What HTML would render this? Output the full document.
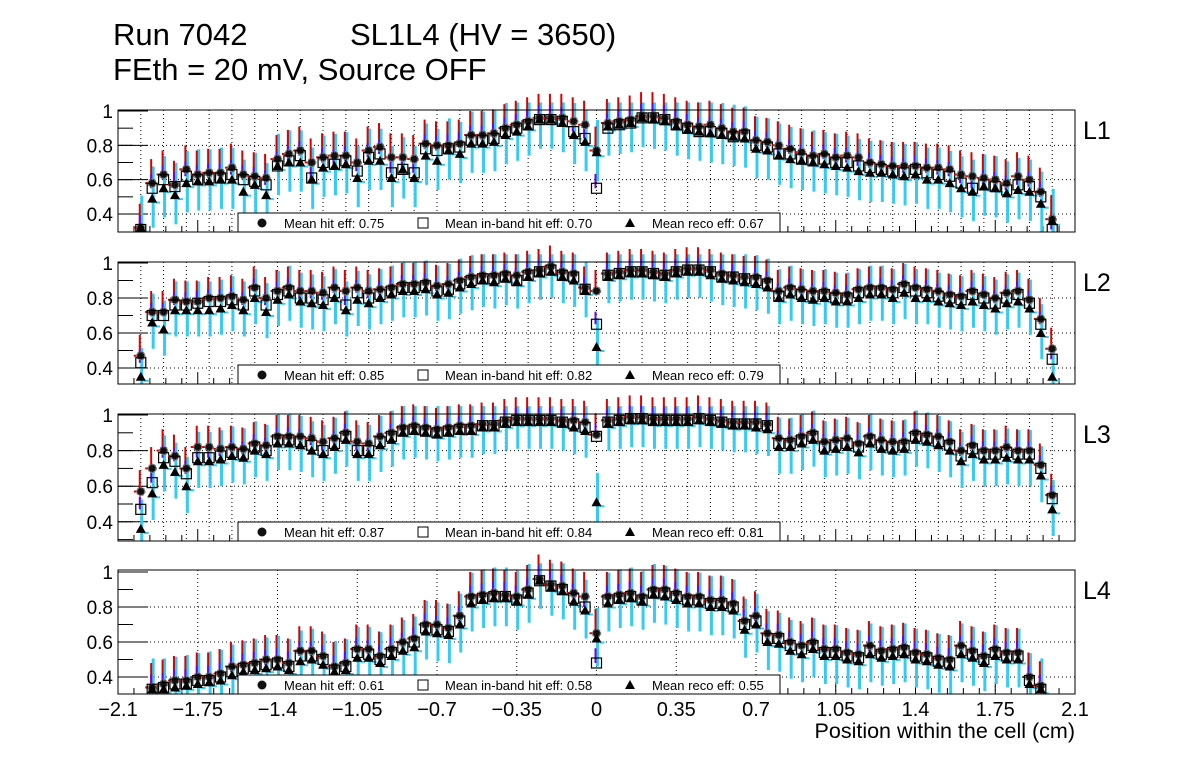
<!DOCTYPE html>
<html><head><meta charset="utf-8"><style>
body{margin:0;background:#fff;}
svg{display:block;font-family:"Liberation Sans",sans-serif;}
</style></head><body>
<svg id="c" width="1196" height="772" viewBox="0 0 1196 772">
<text x="113" y="45" font-size="31">Run 7042</text>
<text x="350" y="45" font-size="31">SL1L4 (HV = 3650)</text>
<text x="113" y="80" font-size="31">FEth = 20 mV, Source OFF</text>
<text x="1075" y="738" font-size="21.5" text-anchor="end">Position within the cell (cm)</text>
</svg>
<script>
const xTicks=[-2.1,-1.75,-1.4,-1.05,-0.7,-0.35,0,0.35,0.7,1.05,1.4,1.75,2.1];
const xTickLabels=["\u22122.1","\u22121.75","\u22121.4","\u22121.05","\u22120.7","\u22120.35","0","0.35","0.7","1.05","1.4","1.75","2.1"];
const yTicks=[0.4,0.6,0.8,1];
const yTickLabels=["0.4","0.6","0.8","1"];
const layerNames=["L1","L2","L3","L4"];
const meanHit=["0.75","0.85","0.87","0.61"];
const meanInband=["0.70","0.82","0.84","0.58"];
const meanReco=["0.67","0.79","0.81","0.55"];
const hit1=[32,58,63,57,66,63,64,64,67,63,62,61,72,75,77,70,73,74,74,70,77,79,73,73,72,81,80,80,81,86,86,87,90,92,94,96,96,96,94,92,77,93,94,95,97,97,96,94,92,91,92,90,88,88,83,82,80,78,76,74,75,73,74,73,70,69,68,68,68,67,67,66,63,62,61,60,58,62,60,53,37];
const inb1=[31,55,60,56,62,60,61,61,63,60,59,57,68,71,74,61,70,69,71,65,73,75,64,66,64,78,77,78,79,83,83,84,88,90,92,95,95,94,88,84,55,90,92,93,96,96,95,92,90,88,88,87,85,86,80,79,75,75,72,71,72,70,70,68,67,66,65,64,66,64,63,62,58,55,57,56,54,57,56,50,31];
const reco1=[32,49,55,51,58,59,59,60,60,53,57,51,68,70,70,60,67,68,69,61,71,71,61,66,61,74,71,77,75,81,81,82,86,88,91,95,95,93,86,82,76,91,92,93,96,95,94,91,89,88,87,86,85,84,78,77,74,72,71,70,69,68,67,65,64,64,63,62,63,60,60,58,55,53,56,55,52,54,53,46,36];
const hit2=[47,72,72,79,78,78,80,80,81,79,86,80,84,86,84,84,83,86,84,86,84,85,86,88,88,89,87,88,90,92,93,93,94,93,95,96,98,95,94,86,84,94,95,96,96,95,94,96,97,97,96,94,93,92,92,90,84,86,85,84,84,83,82,85,86,86,85,88,86,85,84,82,81,84,82,80,83,84,79,68,51];
const inb2=[43,70,70,76,76,77,78,78,79,76,84,76,82,84,80,80,79,83,76,83,80,82,84,86,86,87,84,85,88,90,91,91,92,90,93,95,96,93,92,85,65,93,94,95,95,94,93,95,96,96,95,92,92,91,90,88,81,84,82,81,82,80,80,83,84,84,83,86,84,83,81,80,79,82,80,77,80,82,77,65,45];
const reco2=[35,66,62,73,73,73,73,74,76,73,80,72,79,82,78,77,76,80,73,79,77,80,82,84,84,85,82,83,86,88,90,89,91,89,92,94,95,92,90,84,52,92,93,94,94,93,92,94,95,95,93,91,90,89,88,86,80,82,80,79,80,78,78,80,82,82,80,83,80,80,78,77,76,78,76,74,77,78,74,60,35];
const hit3=[57,70,80,77,70,82,82,81,82,81,84,83,88,88,88,87,85,87,90,85,84,88,90,93,94,93,92,93,94,94,95,95,97,98,98,98,98,97,97,96,89,97,98,99,99,98,98,98,98,99,98,97,96,96,96,95,87,86,88,90,85,86,87,84,88,86,85,85,90,89,88,85,80,83,80,80,82,80,80,72,55];
const inb3=[47,62,76,74,67,76,76,77,79,78,82,80,86,86,85,83,80,84,88,80,80,85,88,91,92,91,90,91,92,92,94,94,96,97,97,97,97,96,95,93,88,96,97,98,98,97,97,97,97,98,97,96,95,95,95,94,84,84,86,88,82,83,84,82,86,83,82,83,88,87,85,83,77,81,78,78,79,78,78,70,53];
const reco3=[36,56,72,68,60,74,74,75,77,76,80,78,84,84,83,80,78,82,86,78,78,83,86,90,91,90,89,90,91,91,93,93,95,96,96,96,96,95,93,91,51,95,96,97,97,96,96,96,96,97,96,95,94,94,93,92,82,82,84,86,80,81,82,79,84,81,80,81,86,85,83,80,74,78,75,75,76,75,75,66,47];
const hit4=[10,34,36,38,38,40,40,42,46,47,48,50,50,48,55,55,52,46,48,56,56,52,56,60,62,70,70,68,75,86,87,88,87,86,90,96,93,92,88,86,65,86,87,88,86,90,90,88,86,86,84,84,82,72,75,65,64,60,58,60,56,56,54,53,58,55,56,57,54,53,51,50,58,55,52,56,54,54,40,35,10];
const inb4=[10,33,34,36,36,38,38,40,43,45,46,47,48,46,52,52,50,44,46,54,53,50,54,57,60,68,67,66,72,84,85,86,86,84,88,95,92,90,85,80,48,84,85,86,84,88,88,86,84,84,82,82,80,70,72,62,62,58,56,58,54,54,52,51,55,53,54,55,52,51,49,48,55,53,50,54,52,52,38,33,10];
const reco4=[10,33,33,34,35,36,37,38,41,43,44,45,46,44,49,50,47,43,44,51,51,48,52,55,57,66,65,64,70,82,84,85,85,83,87,95,91,89,83,78,62,82,84,85,83,87,86,84,82,82,80,80,78,67,70,60,59,55,53,56,52,52,50,49,53,51,52,53,50,49,47,46,53,51,48,52,50,50,36,33,10];
const hitErr=[14,12,12,14];
const recoErr=[17,15,15,16];
const HIT=[hit1,hit2,hit3,hit4],INB=[inb1,inb2,inb3,inb4],RECO=[reco1,reco2,reco3,reco4];

const NS="http://www.w3.org/2000/svg";
const svg=document.getElementById('c');
const X0=118,X1=1075;
const panels=[{top:110,bot:232,y1:111,k:171.7},{top:262,bot:384,y1:263,k:175},{top:414,bot:541,y1:415,k:178},{top:570,bot:694,y1:572,k:175}];
function sx(v){return X0+(v+2.1)/4.2*(X1-X0);}
function mk(tag,attrs,parent){const e=document.createElementNS(NS,tag);for(const k in attrs)e.setAttribute(k,attrs[k]);(parent||svg).appendChild(e);return e;}

panels.forEach((p,pi)=>{
  const sy=v=>p.y1+(1-v)*p.k;
  const g=mk('g',{});
  
  
  const gx=[];
  if(pi<3){for(let k=0;k<=40;k++)gx.push(-2.0+0.1*k);} else {xTicks.forEach(t=>gx.push(t));}
  gx.forEach(v=>{const x=sx(v);if(x>X0+2&&x<X1-2){const l=mk('line',{x1:x,x2:x,y1:p.top,y2:p.bot,stroke:'#000','stroke-width':1,'stroke-dasharray':'1 3'},g);}});
  yTicks.forEach((t,i)=>{const y=sy(t);
    if(t<1){const l=mk('line',{x1:X0,x2:X1,y1:y,y2:y,stroke:'#000','stroke-width':1,'stroke-dasharray':'1 3'},g);}
    const tk=mk('line',{x1:X0,x2:X0+30,y1:y,y2:y,stroke:'#000','stroke-width':1},g);
    const tx=mk('text',{x:113,y:y+7,'font-size':19,'text-anchor':'end'},g);tx.textContent=yTickLabels[i];
  });
  for(let v=0.3;v<1.0;v+=0.1){const y=sy(v);if(y<p.bot-1){const l=mk('line',{x1:X0,x2:X0+15,y1:y,y2:y,stroke:'#000'},g);}}
  xTicks.forEach((t,i)=>{const x=sx(t);
    const l=mk('line',{x1:x,x2:x,y1:p.bot,y2:p.bot-12,stroke:'#000'},g);
    for(let m=1;m<5&&i<xTicks.length-1;m++){const xm=sx(t+0.07*m);const lm=mk('line',{x1:xm,x2:xm,y1:p.bot,y2:p.bot-6,stroke:'#000'},g);}
    if(pi===3){const tx=mk('text',{x:x,y:716,'font-size':20,'text-anchor':'middle'},g);tx.textContent=xTickLabels[i];}
  });
  const hv=HIT[pi],iv=INB[pi],rv=RECO[pi];
  const clipId='clip'+pi;
  const cp=mk('clipPath',{id:clipId},g);mk('rect',{x:X0,y:0,width:X1-X0,height:p.bot},cp);
  const dg=mk('g',{'clip-path':'url(#'+clipId+')'},g);
  for(let i=0;i<hv.length;i++){
    const x=sx(-2.0+0.05*i);
    const h=hv[i]/100,b=iv[i]/100,r=rv[i]/100;
    const he=hitErr[pi]/100,re=recoErr[pi]/100;
    const c=mk('line',{x1:x+1,x2:x+1,y1:sy(r-re),y2:sy(Math.min(r+re*1.1,1.05)),stroke:'#33ccf5','stroke-width':3},dg);
    const rb=mk('line',{x1:x-1,x2:x-1,y1:sy(h),y2:sy(h+he),stroke:'#dd0000','stroke-width':2},dg);
    const pb=mk('line',{x1:x-1,x2:x-1,y1:sy(b),y2:sy(b+he*0.6),stroke:'#7a00d8','stroke-width':2},dg);
    mk('line',{x1:x-7,x2:x-3,y1:sy(h),y2:sy(h),stroke:'#dd0000','stroke-width':2},dg);
    mk('line',{x1:x+3,x2:x+8,y1:sy(r)+4,y2:sy(r)+4,stroke:'#33ccf5','stroke-width':2},dg);
    const ci=mk('circle',{cx:x,cy:sy(h),r:4,fill:'#111',stroke:'#777','stroke-width':1.5,'stroke-dasharray':'2 1'},dg);
    const sq=mk('rect',{x:x-5,y:sy(b)-5,width:10,height:10,fill:'none',stroke:'#000','stroke-width':1.2},dg);
    const yr=sy(r);
    const tr=mk('polygon',{points:`${x-5},${yr+4} ${x+5},${yr+4} ${x},${yr-5}`,fill:'#000'},dg);
  }
  const fr=mk('rect',{x:X0,y:p.top,width:X1-X0,height:p.bot-p.top,fill:'none',stroke:'#000','stroke-width':1},g);
  const lg=mk('g',{},g);
  const ly=p.bot-19;
  mk('rect',{x:238,y:ly,width:542,height:19,fill:'#fff',stroke:'#000','stroke-width':1},lg);
  const cy=ly+10;
  const e1=mk('circle',{cx:262,cy:cy,r:4.5,fill:'#111'},lg);
  const t1=mk('text',{x:284,y:cy+5,'font-size':13},lg);t1.textContent='Mean hit  eff: '+meanHit[pi];t1.setAttribute('xml:space','preserve');
  const e2=mk('rect',{x:418,y:cy-5,width:10,height:10,fill:'none',stroke:'#000'},lg);
  const t2=mk('text',{x:445,y:cy+5,'font-size':13},lg);t2.textContent='Mean in-band hit eff: '+meanInband[pi];
  const e3=mk('polygon',{points:`625,${cy+4} 635,${cy+4} 630,${cy-5}`,fill:'#000'},lg);
  const t3=mk('text',{x:652,y:cy+5,'font-size':13},lg);t3.textContent='Mean reco eff: '+meanReco[pi];
  const ll=mk('text',{x:1083,y:p.top+29,'font-size':25},g);ll.textContent=layerNames[pi];
});
</script>
</body></html>
